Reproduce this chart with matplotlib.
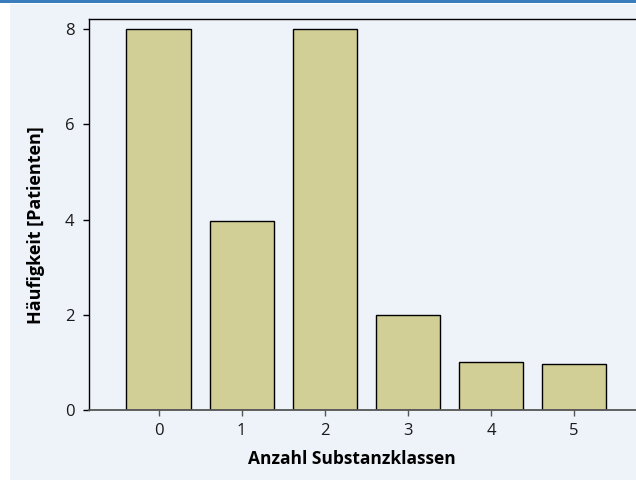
import numpy as np
import matplotlib
matplotlib.use("Agg")
from matplotlib import pyplot as plt
from matplotlib.patches import Rectangle

plt.rcParams["font.family"] = ["Open Sans", "DejaVu Sans"]
plt.rcParams["font.size"] = 12

klassen = [0, 1, 2, 3, 4, 5]
patienten = [8, 3.97, 8, 2, 1, 0.96]
tick_labels = ["0", "1", "2", "3", "4", "5"]

W, H = 636, 482
fig = plt.figure(figsize=(W / 100, H / 100), dpi=100)
fig.patch.set_facecolor("white")

# light panel background and blue rule on top
fig.patches.append(Rectangle((10 / W, 2 / H), 1 - 10 / W, 1 - 6 / H,
                             transform=fig.transFigure, facecolor="#eef2f9",
                             edgecolor="none", zorder=-2))
fig.patches.append(Rectangle((0, 1 - 3 / H), 1, 3 / H,
                             transform=fig.transFigure, facecolor="#3a7dbd",
                             edgecolor="none", zorder=-2))

# axes run past the right edge of the picture (cropped like the original)
ax = fig.add_axes([89.3 / W, 72 / H, 609.5 / W, 390.7 / H])
ax.set_zorder(2)
ax.set_facecolor("none")

ax.bar(klassen, patienten, width=0.775, color="#d1cf95", edgecolor="black",
       linewidth=1.0, zorder=2)

ax.set_xlim(-0.834, 6.5)
ax.set_ylim(0, 8.21)
ax.set_xticks(klassen)
ax.set_xticklabels(tick_labels)
ax.set_yticks([0, 2, 4, 6, 8])

ax.spines["right"].set_visible(False)
ax.spines["left"].set_color("black")
ax.spines["left"].set_linewidth(1.0)
ax.spines["top"].set_color("black")
ax.spines["top"].set_linewidth(1.0)
ax.spines["bottom"].set_color("#555555")
ax.spines["bottom"].set_linewidth(1.3)

ax.tick_params(axis="x", direction="out", length=4.3, width=1.0, color="#555555",
               labelsize=12, labelcolor="#1a1a1a", pad=5)
ax.tick_params(axis="y", direction="out", length=4.3, width=1.0, color="black",
               labelsize=12, labelcolor="#1a1a1a", pad=6.5)

ax.set_xlabel("Anzahl Substanzklassen", fontsize=12.5, fontweight="bold")
ax.set_ylabel("Häufigkeit [Patienten]", fontsize=13, fontweight="bold")
ax.xaxis.set_label_coords((352 - 89.3) / 609.5, -(459 - 410) / 390.7)
ax.yaxis.set_label_coords(-(89.3 - 36) / 609.5, (410 - 225) / 390.7)
ax.xaxis.label.set_va("center")
ax.yaxis.label.set_va("center")

fig.savefig("out.png", dpi=100)
